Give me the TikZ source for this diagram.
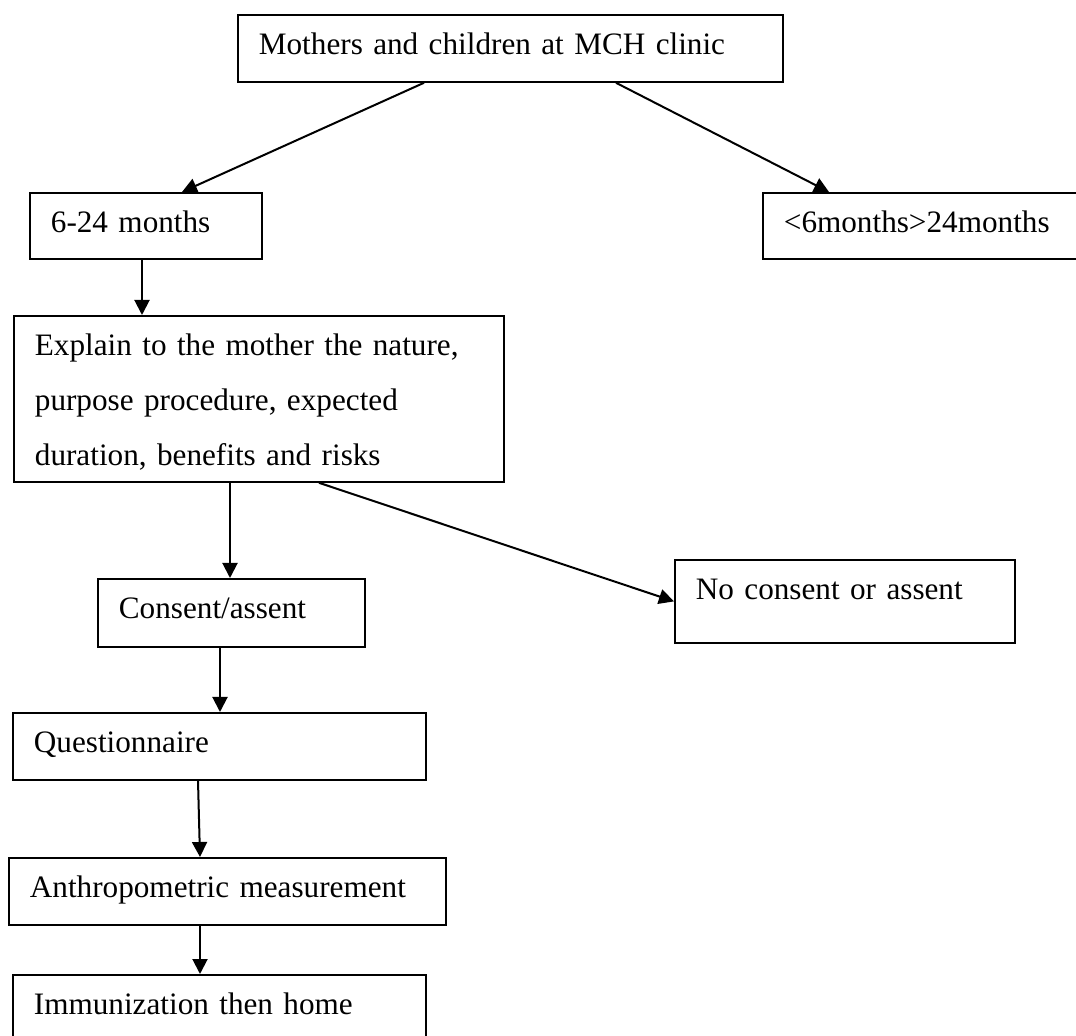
\documentclass[tikz,border=0pt]{standalone}
\usepackage{fontspec}
\setmainfont{Liberation Serif}
\usetikzlibrary{arrows.meta}

\begin{document}
\begin{tikzpicture}[x=0.5pt, y=-0.5pt, >={Triangle[length=7.5pt, width=7.5pt]},
        box/.style={draw, line width=0.9pt, anchor=north west, align=left,
            inner xsep=10.5pt, inner ysep=0pt, text height=20pt,
            font=\fontsize{15.6}{27.5}\selectfont},
        arr/.style={->, line width=1pt}]
        \useasboundingbox (0,0) rectangle (1076,1036);

        % boxes
        \node[box, text width=251.5pt, text depth=13.5pt] (clinic) at (237,14) {Mothers and children at MCH clinic};
        \node[box, text width=95pt, text depth=13pt] (age) at (29,192) {6-24 months};
        \node[box, text width=138pt, text depth=13pt] (other) at (762,192) {<6months>24months};
        \node[box, text width=224pt, text depth=63pt] (explain) at (13,315)
            {Explain to the mother the nature,\\ purpose procedure, expected\\ duration, benefits and risks};
        \node[box, text width=112.5pt, text depth=14pt] (consent) at (97,578) {Consent/assent};
        \node[box, text width=149pt, text depth=21.5pt] (refuse) at (674,559) {No consent or assent};
        \node[box, text width=185.5pt, text depth=13.5pt] (quest) at (12,712) {Questionnaire};
        \node[box, text width=197.5pt, text depth=13.5pt] (anthro) at (8,857) {Anthropometric measurement};
        \node[box, text width=185.5pt, text depth=14pt] (immun) at (12,974) {Immunization then home};

        % arrows
        \draw[arr] ([xshift=93.5pt]clinic.south west) -- ([xshift=76.5pt]age.north west);
        \draw[arr] ([xshift=189.5pt]clinic.south west) -- ([xshift=33.5pt]other.north west);
        \draw[arr] ([xshift=56.5pt]age.south west) -- ([xshift=64.5pt]explain.north west);
        \draw[arr] ([xshift=108.5pt]explain.south west) -- ([xshift=66.5pt]consent.north west);
        \draw[arr] ([xshift=153pt]explain.south west) -- (refuse.west);
        \draw[arr] ([xshift=61.5pt]consent.south west) -- ([xshift=104pt]quest.north west);
        \draw[arr] ([xshift=93pt]quest.south west) -- ([xshift=96pt]anthro.north west);
        \draw[arr] ([xshift=96pt]anthro.south west) -- ([xshift=94pt]immun.north west);
    \end{tikzpicture}
\end{document}
